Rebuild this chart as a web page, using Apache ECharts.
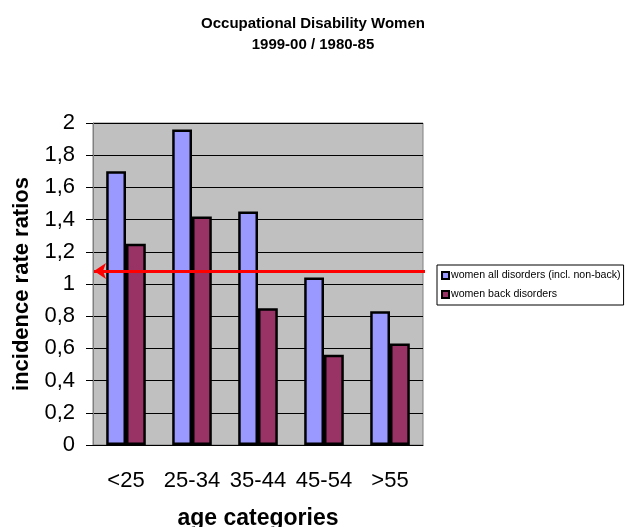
<!DOCTYPE html>
<html>
<head>
<meta charset="utf-8">
<script src="https://cdn.jsdelivr.net/npm/echarts@6/dist/echarts.min.js"></script>
<style>
  html, body { margin: 0; padding: 0; background: #fff; }
  #chart { width: 626px; height: 527px; }
</style>
</head>
<body>
<div id="chart"></div>
<script>
var categories = ['<25', '25-34', '35-44', '45-54', '>55']
var allDisorders = [1.70, 1.96, 1.45, 1.04, 0.83]
var backDisorders = [1.25, 1.42, 0.85, 0.56, 0.63]
var referenceLevel = 1.08

var chart = echarts.init(document.getElementById('chart'))

var font = 'Liberation Sans, Arial, sans-serif'

var option = {
    animation: false,
    title: {
        text: 'Occupational Disability Women\n1999-00 / 1980-85',
        left: 308,
        textAlign: 'center',
        top: 8,
        textStyle: {
            fontFamily: font,
            fontSize: 15,
            fontWeight: 'bold',
            lineHeight: 21,
            color: '#000'
        }
    },
    legend: {
        orient: 'vertical',
        left: 437,
        top: 265,
        itemWidth: 7,
        itemHeight: 7,
        itemGap: 8,
        padding: [5, 3, 5, 4],
        borderColor: '#000',
        borderWidth: 1,
        borderRadius: 0,
        icon: 'rect',
        textStyle: {
            fontFamily: font,
            fontSize: 10.6,
            color: '#000',
            padding: [0, 0, 0, -3]
        },
        data: ['women all disorders (incl. non-back)', 'women back disorders']
    },
    grid: {
        left: 93,
        right: 203,
        top: 123,
        bottom: 82,
        outerBoundsMode: 'none',
        containLabel: false,
        show: true,
        backgroundColor: '#c0c0c0',
        borderColor: '#808080',
        borderWidth: 1
    },
    xAxis: {
        type: 'category',
        data: categories,
        name: 'age categories',
        nameLocation: 'middle',
        nameGap: 62,
        nameTextStyle: {
            fontFamily: font,
            fontSize: 23,
            fontWeight: 'bold',
            color: '#000'
        },
        axisLine: { lineStyle: { color: '#000', width: 1 } },
        axisTick: { length: 6, lineStyle: { color: '#000' } },
        axisLabel: {
            interval: 0,
            hideOverlap: false,
            margin: 25,
            fontFamily: font,
            fontSize: 22,
            color: '#000'
        }
    },
    yAxis: {
        type: 'value',
        min: 0,
        max: 2,
        interval: 0.2,
        name: 'incidence rate ratios',
        nameLocation: 'middle',
        nameGap: 60,
        nameTextStyle: {
            fontFamily: font,
            fontSize: 22,
            fontWeight: 'bold',
            color: '#000'
        },
        axisLine: { show: true, lineStyle: { color: '#808080' } },
        axisTick: { show: true, length: 7, lineStyle: { color: '#000' } },
        axisLabel: {
            margin: 18,
            fontFamily: font,
            fontSize: 22,
            color: '#000',
            formatter: function (v) {
                return String(Math.round(v * 10) / 10).replace('.', ',')
            }
        },
        splitLine: { lineStyle: { color: '#000', width: 1 } }
    },
    series: [
        {
            name: 'women all disorders (incl. non-back)',
            type: 'bar',
            data: allDisorders,
            barGap: '0%',
            barCategoryGap: '40%',
            itemStyle: { color: '#9999ff', borderColor: '#000', borderWidth: 2.5 },
            markLine: {
                silent: true,
                symbol: ['arrow', 'none'],
                symbolSize: [12, 12],
                label: { show: false },
                lineStyle: { color: '#ff0000', width: 3, type: 'solid' },
                data: [[
                    { coord: [-0.5, referenceLevel], x: 94 },
                    { coord: [4.5, referenceLevel], x: 425 }
                ]]
            }
        },
        {
            name: 'women back disorders',
            type: 'bar',
            data: backDisorders,
            itemStyle: { color: '#993366', borderColor: '#000', borderWidth: 2.5 }
        }
    ]
}

chart.setOption(option)
</script>
</body>
</html>
